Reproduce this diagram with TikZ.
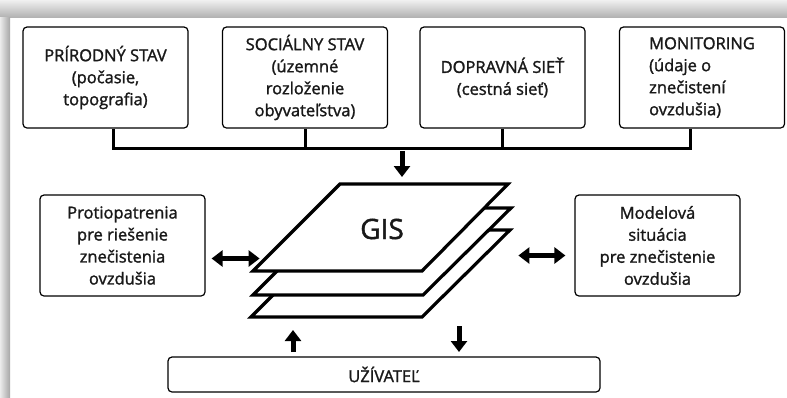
\documentclass[tikz,border=0pt]{standalone}
\usepackage{fontspec}
\setmainfont{Open Sans}
\newfontfamily\boxfont{Open Sans}[FakeBold=1.5]
\usetikzlibrary{arrows.meta}
\begin{document}
\begin{tikzpicture}[x=1pt, y=-1pt, line join=miter,
    srcbox/.style={draw, rounded corners=4pt, line width=1.2pt, fill=white,
      minimum width=165pt, minimum height=101pt, inner sep=0pt, align=center,
      font=\boxfont\fontsize{16.5}{22}\selectfont, text=black!90},
    bus/.style={line width=3pt},
    layer/.style={line width=3.2pt, fill=white},
    fat/.style={line width=5pt, -{Triangle[width=16pt,length=11pt]}},
    fatboth/.style={line width=5pt, {Triangle[width=16pt,length=11pt]}-{Triangle[width=16pt,length=11pt]}}]
  \useasboundingbox (0,0) rectangle (787,397);
  % Frame shadow, top and left.
  \shade[top color=black!6, bottom color=black!30] (0,0) rectangle (787,17);
  \shade[left color=black!8, right color=black!35] (0,17) rectangle (10,397);
  % Sources of data.
  \node[srcbox] (nat) at (105.5,77.5) {PRÍRODNÝ STAV\\(počasie,\\topografia)};
  \node[srcbox] (soc) at (305,77.5) {SOCIÁLNY STAV\\(územné\\rozloženie\\obyvateľstva)};
  \node[srcbox] (net) at (502.5,77.5) {DOPRAVNÁ SIEŤ\\(cestná sieť)};
  \node[srcbox, align=left] (mon) at (702,77.5) {MONITORING\\ (údaje o\\ znečistení\\ ovzdušia)};
  % Collecting line.
  \coordinate (busL) at (113,148);
  \coordinate (busR) at (690,148);
  \draw[bus] (nat.south -| busL) -- (busL) -- (busR) -- (busR |- mon.south);
  \draw[bus] (soc.south) -- (soc.south |- busL);
  \draw[bus] (net.south) -- (net.south |- busL);
  \coordinate (inA) at (402,151);
  \coordinate (inB) at (402,177);
  \draw[fat] (inA) -- (inB);
  % GIS layers, the lowest first.
  \draw[layer] (251,317) -- (338,230) -- (510,230) -- (422,317) -- cycle;
  \draw[layer] (253,295) -- (340,208) -- (511,208) -- (423,295) -- cycle;
  \draw[layer] (253,271) -- (340,184) -- (508,184) -- (422,271) -- cycle;
  \node[font=\boxfont\fontsize{28}{30}\selectfont, text=black!90] (gis) at (382,229) {GIS};
  % Side boxes.
  \node[srcbox] (prot) at (122.5,245.5) {Protiopatrenia\\pre riešenie\\znečistenia\\ovzdušia};
  \node[srcbox] (model) at (657.5,245.5) {Modelová\\situácia\\pre znečistenie\\ovzdušia};
  \draw[fatboth] ([xshift=6pt, yshift=-13pt]prot.east) -- ++(48,0);
  \draw[fatboth] ([xshift=-9pt, yshift=-10pt]model.west) -- ++(-47,0);
  % User.
  \node[srcbox, minimum width=432pt, minimum height=35pt] (user) at (384,374.5) {UŽÍVATEĽ};
  \coordinate (upA) at (293,352);
  \coordinate (upB) at (293,330);
  \coordinate (dnA) at (459,326);
  \coordinate (dnB) at (459,352);
  \draw[fat] (upA) -- (upB);
  \draw[fat] (dnA) -- (dnB);
\end{tikzpicture}
\end{document}
